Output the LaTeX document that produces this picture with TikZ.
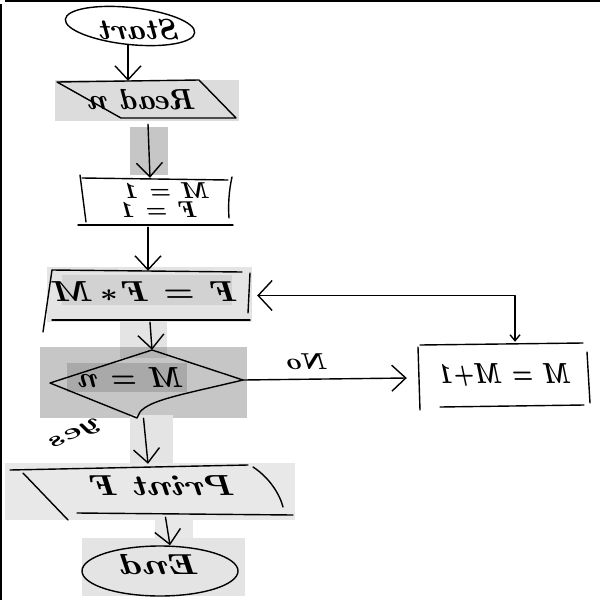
\documentclass[tikz,border=0pt]{standalone}
\usepackage{graphicx}
\usetikzlibrary{arrows.meta,shapes.geometric}

% mirrored, slightly widened handwriting
\newcommand\mirtext[2][1.1]{\scalebox{-#1}[1]{#2}}

\definecolor{patchA}{HTML}{DCDCDC}
\definecolor{patchB}{HTML}{C6C6C6}
\definecolor{patchC}{HTML}{E4E4E4}
\definecolor{patchD}{HTML}{D2D2D2}
\definecolor{patchE}{HTML}{B4B4B4}
\definecolor{patchF}{HTML}{A9A9A9}
\definecolor{patchG}{HTML}{E8E8E8}

\tikzset{
  pen/.style={line width=1.4pt, line cap=round, line join=round},
  hole/.style 2 args={inner sep=0pt, minimum width=#1, minimum height=#2},
  script/.style={inner sep=0pt, font=\fontsize{29}{31}\selectfont\bfseries\itshape\boldmath},
  smallscript/.style={inner sep=0pt, font=\fontsize{23}{25}\selectfont\bfseries\itshape\boldmath},
  arr/.style={pen, -{Straight Barb[length=14pt,width=26pt]}},
  backarr/.style={pen, {Straight Barb[length=6pt,width=10pt]}-{Straight Barb[length=14pt,width=30pt]}},
}

\begin{document}
\begin{tikzpicture}[x=1pt,y=-1pt]
\useasboundingbox (0,0) rectangle (600,600);
\fill[white] (0,0) rectangle (600,600);

% shaded patches behind the chart
\fill[patchA] (55,80) rectangle (239,121);
\fill[patchB] (130,127) rectangle (168,175);
\fill[patchC] (47,267) rectangle (252,322);
\fill[patchD] (62,275) rectangle (232,305);
\fill[patchC] (120,322) rectangle (167,347);
\fill[patchB] (40,347) rectangle (247,418);
\fill[patchE] (120,347) rectangle (167,358);
\fill[patchF] (67,363) rectangle (187,392);
\fill[patchC] (130,415) rectangle (173,463);
\fill[patchG] (5,463) rectangle (295,520);
\fill[patchG] (155,513) rectangle (193,538);
\fill[patchC] (82,538) rectangle (245,596);

% frame edges
\fill[black] (5,0) rectangle (600,2);
\fill[black] (0,4) rectangle (2,600);

% terminals
\node[draw, pen, ellipse, inner sep=0pt, minimum width=130pt, minimum height=37pt, rotate=-6] (start) at (130,26) {};
\node[draw, pen, ellipse, inner sep=0pt, minimum width=156pt, minimum height=50pt] (stop) at (160,571) {};

% outline holders for the hand-drawn boxes
\node[hole={179pt}{37pt}] (read) at (146.5,99.5) {};
\node[hole={152pt}{47pt}] (init) at (156,201.5) {};
\node[hole={203pt}{49pt}] (loop) at (148.5,295.5) {};
\node[hole={193pt}{68pt}] (dec) at (146.5,384) {};
\node[hole={170pt}{62pt}] (inc) at (504,375) {};
\node[hole={283pt}{49pt}] (print) at (151.5,490.5) {};

% input box
\draw[pen] (57,82) -- (199,80) -- (236,118) -- (121,118) -- cycle;
% initialisation box
\draw[pen] (82,178) -- (228,180);
\draw[pen] (80,175) -- (86,222);
\draw[pen] (78,225) -- (233,225);
\draw[pen] (232,177) .. controls (229,190) and (228,205) .. (229,218);
% product box
\draw[pen] (52,270) -- (242,272);
\draw[pen] (52,270) -- (43,332);
\draw[pen] (52,320) -- (250,320);
\draw[pen] (250,273) -- (248,313);
% decision
\draw[pen] (50,383) -- (152,350) -- (243,380) .. controls (180,395) and (150,400) .. (140,412) -- (137,418) -- cycle;
% increment box
\draw[pen] (420,345) -- (583,343);
\draw[pen] (418,347) -- (420,410);
\draw[pen] (440,407) -- (584,405);
\draw[pen] (587,352) -- (590,403);
% output box
\draw[pen] (10,470) -- (248,465);
\draw[pen] (23,473) -- (68,520);
\draw[pen] (77,513) -- (293,515);
\draw[pen] (253,467) .. controls (270,478) and (280,495) .. (283,507);

% texts
\node[script] (tstart) at (141,30) {\mirtext{Start}};
\node[script] (tread) at (143,100) {\mirtext[1.05]{Read n}};
\node[smallscript] (tinitm) at (168,191) {\mirtext{M = 1}};
\node[smallscript] (tinitf) at (160,210) {\mirtext{F = 1}};
\node[script] (tloop) at (147,292) {\mirtext[1.25]{F = F\,$\ast$\,M}};
\node[script] (tdec) at (132,378) {\mirtext[1.05]{M = n}};
\node[script] (tinc) at (506,375) {\mirtext[0.85]{M = M+1}};
\node[smallscript] (tno) at (308,362) {\mirtext[1.2]{No}};
\node[smallscript, rotate=25] (tyes) at (77,434) {\mirtext[1.5]{yes}};
\node[script] (tprint) at (164,486) {\mirtext[1.3]{Print F}};
\node[script] (tend) at (161,565) {\mirtext[1.35]{End}};

% flow
\draw[arr] (start.south) -- (start.south |- read.north);
\draw[arr] ([shift={(1.5,6)}]read.south) -- ([shift={(-6,0)}]init.north);
\draw[arr] ([shift={(-8,2)}]init.south) -- ([shift={(-0.5,0)}]loop.north);
\draw[arr] ([shift={(1.5,2)}]loop.south) -- ([shift={(5.5,0)}]dec.north);
\draw[arr] ([shift={(0,-4)}]dec.east) -- ([shift={(-12,3)}]inc.west);
\draw[backarr] ([shift={(11,-2)}]inc.north) |- ([shift={(7,0)}]loop.east);
\draw[arr] ([shift={(-3,0)}]dec.south) -- ([shift={(-3.5,-2)}]print.north);
\draw[arr] ([shift={(14,2)}]print.south) -- ([shift={(10,0)}]stop.north);
\end{tikzpicture}
\end{document}
